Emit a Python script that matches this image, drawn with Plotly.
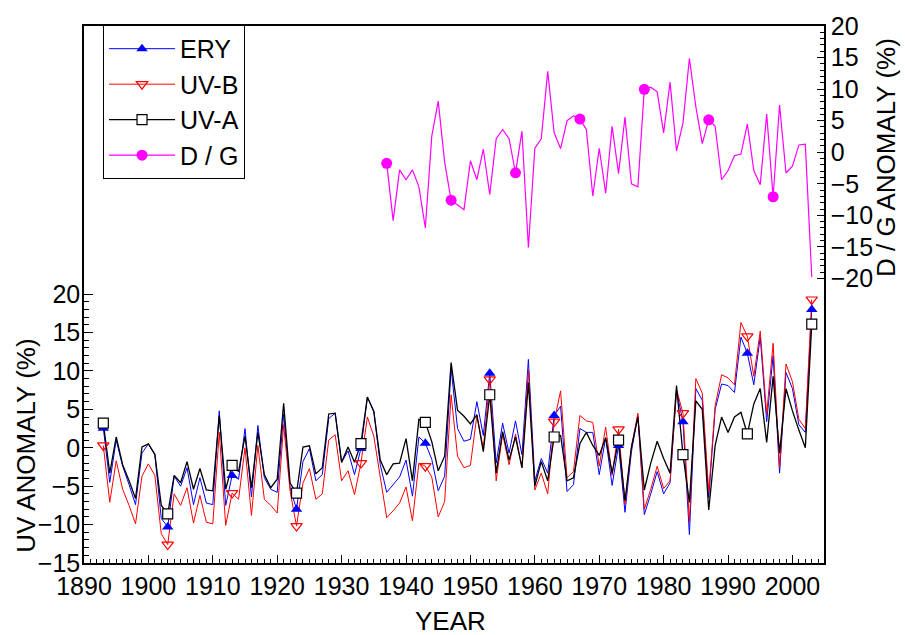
import plotly.graph_objects as go

# ---------------- data ----------------
years_uv = list(range(1893, 2004))
ery = [2.55, -4.5, 1.0, -2.4, -4.8, -7.4, -0.7, 0.5, -0.9, -9.2,
       -10.3, -3.7, -5.0, -2.6, -7.4, -3.9, -7.2, -7.4, 4.8, -7.5,
       -3.6, -4.1, 2.5, -6.4, 2.9, -3.9, -5.4, -5.8, 4.4, -5.2,
       -8.0, -1.8, -0.1, -4.3, -3.5, 3.8, 4.5, -1.9, -0.4, -3.5,
       -0.1, 6.6, 4.8, -2.2, -5.8, -4.8, -3.8, -1.6, -6.3, 1.4,
       0.6, -1.5, -5.6, -3.7, 10.3, 2.5, 0.85, 1.1, 6.0, 1.6,
       9.7, -2.0, 3.2, -0.7, 3.5, -0.9, 11.5, -4.3, -1.4, -3.3,
       4.2, 5.4, -5.7, -4.8, 2.5, 2.0, 2.0, -3.5, 1.3, -4.9,
       0.3, -8.4, -0.5, 4.2, -8.7, -6.0, -3.1, -6.0, -4.55, 7.4,
       3.4, -11.3, 7.7, 6.2, -6.5, 5.0, 8.3, 8.1, 7.2, 14.4,
       12.3, 8.2, 14.4, 3.4, 12.0, -3.3, 9.8, 7.7, 3.0, 2.0,
       18.0]
uvb = [0.3, -7.1, -1.7, -5.4, -7.5, -9.9, -3.7, -2.1, -3.6, -11.2,
       -12.6, -6.0, -7.5, -5.2, -9.8, -6.2, -9.7, -9.9, 2.0, -10.1,
       -5.9, -6.7, 0.0, -8.8, 0.3, -6.7, -7.5, -8.5, 3.0, -5.6,
       -10.2, -4.6, -2.7, -6.7, -6.0, 1.0, 1.7, -4.3, -3.0, -6.1,
       -2.0, 4.0, 1.5, -4.1, -9.1, -8.2, -7.2, -5.1, -9.5, -2.0,
       -2.4, -3.8, -9.0, -7.0, 6.9, -1.1, -2.6, -2.3, 4.2, -0.1,
       8.9, -4.3, 1.8, -2.2, 1.8, -2.6, 10.1, -5.5, -3.3, -6.0,
       3.4, 7.4, -3.9, -3.1, 4.2, 3.5, 3.3, -2.4, 2.7, -3.6,
       2.4, -7.3, 0.1, 4.5, -8.0, -5.4, -2.4, -5.3, -4.3, 7.6,
       4.5, -9.6, 9.0, 7.1, -5.8, 5.5, 9.5, 9.1, 8.2, 16.3,
       14.5, 9.3, 15.2, 4.4, 13.6, -2.6, 10.9, 8.6, 3.7, 2.5,
       19.3]
uva = [3.2, -3.3, 1.4, -2.2, -4.3, -6.6, 0.1, 0.5, -0.85, -7.5,
       -8.6, -3.6, -4.55, -1.8, -5.4, -2.7, -5.5, -5.6, 4.2, -5.4,
       -2.3, -3.1, 1.5, -5.2, 2.0, -3.5, -5.2, -4.1, 5.8, -4.6,
       -5.9, 0.1, 0.26, -3.4, -2.6, 4.4, 4.5, -1.9, 0.1, -1.9,
       0.55, 6.6, 4.7, -1.6, -3.5, -2.1, -2.0, 1.2, -4.3, 3.7,
       3.3, 0.8, -3.0, -1.1, 11.1, 4.9, 4.1, 3.1, 4.3, -0.5,
       6.9, -3.3, 2.1, -1.6, 1.4, -2.6, 8.5, -5.0, -1.8, -4.3,
       1.4, 1.6, -4.3, -3.9, 0.55, 2.0, 0.3, -1.0, 1.3, -3.3,
       1.0, -6.9, 0.1, 4.0, -5.5, -2.0, 0.85, -1.4, -3.3, 8.1,
       -0.9, -7.1, 6.1, 5.0, -8.1, 0.3, 4.0, 2.0, 4.0, 4.6,
       1.8, 5.7, 7.7, 0.7, 9.3, -0.7, 7.7, 4.8, 2.3, 0.0,
       16.1]
years_dg = list(range(1937, 2004))
dg = [-1.76, -10.85, -2.8, -4.36, -2.8, -5.5, -12.0, 2.55, 8.1, -1.6,
      -7.6, -8.35, -9.1, -1.35, -4.36, 0.47, -6.7, 2.13, 3.6, 2.13,
      -3.27, 3.33, -15.1, 0.63, 2.13, 12.8, 3.07, 0.57, 5.0, 5.76,
      5.25, 3.6, -6.95, 0.63, -6.5, 4.1, -3.4, 5.56, -5.0, -5.5,
      9.97, 10.3, 9.56, 3.07, 11.1, 0.2, 4.6, 14.86, 7.2, 1.36,
      5.14, 4.1, -4.36, -2.9, -0.56, -0.3, 4.47, -2.9, -5.14, 6.03,
      -7.06, 7.48, -3.3, -2.23, 1.15, 1.26, -19.8]

x_ticks = list(range(1890, 2001, 10))
uv_ticks = list(range(-15, 21, 5))
dg_ticks = list(range(-20, 21, 5))

FONT = "Liberation Sans, Arial, sans-serif"

series = [
    ("ERY", years_uv, ery, "#0000FF", dict(symbol="triangle-up", size=10, color="#0000FF",
                                        line=dict(width=0)), "y", 1.0),
    ("UV-B", years_uv, uvb, "#FF0000", dict(symbol="triangle-down-open", size=10, color="#FF0000",
                                         line=dict(width=1.2)), "y", 1.0),
    ("UV-A", years_uv, uva, "#000000", dict(symbol="square", size=10, color="white",
                                         line=dict(width=1.2, color="#000000")), "y", 1.3),
    ("D / G", years_dg, dg, "#FF00FF", dict(symbol="circle", size=11, color="#FF00FF",
                                          line=dict(width=0)), "y2", 1.2),
]

fig = go.Figure()
# lines
for name, xs, ys, col, mk, ax, lw in series:
    fig.add_trace(go.Scatter(x=xs, y=ys, mode="lines", line=dict(color=col, width=lw),
                             yaxis=ax, showlegend=False, legendgroup=name, hoverinfo="skip"))
# markers every 10 years
for name, xs, ys, col, mk, ax, lw in series:
    mx = [x for i, x in enumerate(xs) if i % 10 == 0]
    my = [y for i, y in enumerate(ys) if i % 10 == 0]
    fig.add_trace(go.Scatter(x=mx, y=my, mode="markers", marker=mk, yaxis=ax,
                             showlegend=False, legendgroup=name))
# legend entries
for name, xs, ys, col, mk, ax, lw in series:
    fig.add_trace(go.Scatter(x=[None], y=[None], mode="lines+markers", name=name,
                             line=dict(color=col, width=lw), marker=mk, yaxis=ax,
                             legendgroup=name, showlegend=True))

fig.update_layout(
    width=905, height=635,
    margin=dict(l=84, r=81, t=16, b=72),
    paper_bgcolor="white", plot_bgcolor="white",
    font=dict(family=FONT, size=25, color="black"),
    showlegend=True,
    legend=dict(x=0.0257, y=1.002, xanchor="left", yanchor="top",
                bordercolor="black", borderwidth=1, bgcolor="white",
                font=dict(size=25, family=FONT), tracegroupgap=0, itemwidth=66,
                entrywidth=150, entrywidthmode="pixels"),
    xaxis=dict(range=[1890, 2004.9], tickmode="array", tickvals=x_ticks,
               ticks="inside", ticklen=8, tickwidth=1.2, tickcolor="black",
               minor=dict(dtick=1, tick0=1890, ticks="inside", ticklen=4, tickcolor="black"),
               showline=True, linecolor="black", linewidth=2, mirror=True,
               showgrid=False, zeroline=False, tickfont=dict(size=25)),
    yaxis=dict(range=[-15, 54.9], tickmode="array", tickvals=uv_ticks,
               ticks="inside", ticklen=9, tickwidth=1.2, tickcolor="black",
               minor=dict(tickmode="array", tickvals=list(range(-15, 21)), ticks="inside",
                          ticklen=5, tickcolor="black"),
               showline=True, linecolor="black", linewidth=1.5,
               showgrid=False, zeroline=False, tickfont=dict(size=25),
               ticklabelstandoff=-3),
    yaxis2=dict(range=[-65.1, 20], overlaying="y", side="right", tickmode="array",
                tickvals=dg_ticks, ticks="inside", ticklen=7, tickwidth=1.2, tickcolor="black",
                minor=dict(tickmode="array", tickvals=list(range(-20, 21)), ticks="inside",
                           ticklen=4, tickcolor="black"),
                showline=True, linecolor="black", linewidth=1.5,
                showgrid=False, zeroline=False, tickfont=dict(size=25)),
    annotations=[
        dict(text="YEAR", xref="paper", yref="paper", x=0.495, y=-0.108,
             showarrow=False, font=dict(size=26), xanchor="center", yanchor="middle"),
        dict(text="UV ANOMALY (%)", xref="paper", yref="paper", x=-0.078, y=0.219,
             showarrow=False, font=dict(size=26), textangle=-90,
             xanchor="center", yanchor="middle"),
        dict(text="D / G ANOMALY (%)", xref="paper", yref="paper", x=1.083, y=0.755,
             showarrow=False, font=dict(size=26), textangle=-90,
             xanchor="center", yanchor="middle"),
    ],
)

fig.write_html("out.html")
